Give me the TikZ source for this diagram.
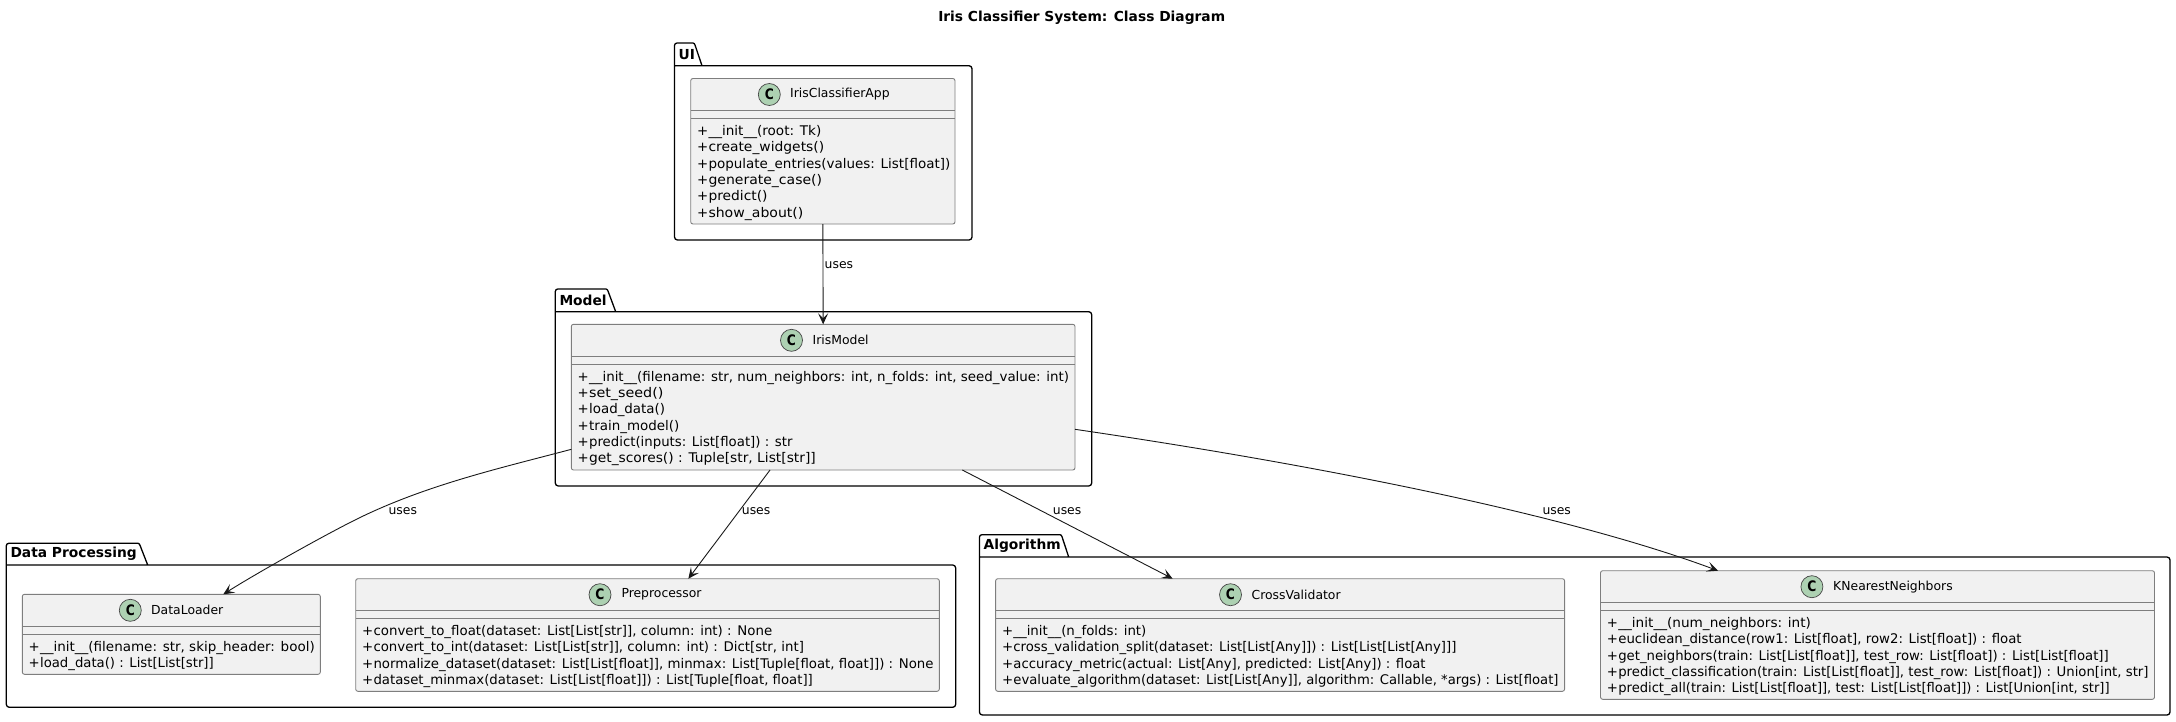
\documentclass[tikz,border=0pt]{standalone}
\usepackage{fontspec}
\usepackage{graphicx}
\setmainfont{DejaVu Sans}
\usetikzlibrary{arrows.meta,calc}
\definecolor{classfill}{HTML}{F1F1F1}
\definecolor{classline}{HTML}{7E7E7E}
\definecolor{circfill}{HTML}{ADD1B2}
\definecolor{ink}{HTML}{181818}
% ink width in px, text
\newcommand{\mline}[2]{\rule{0pt}{10pt}\makebox[11.4pt][l]{+}\resizebox{#1pt}{\height}{#2}}
% id, left, top, right, bottom, circle x, name x, name, methods
\newcommand{\umlclass}[9]{%
  \node[classbox,minimum width={(#4-#2)*1pt},minimum height={(#5-#3)*1pt}] (#1) at ({(#2+#4)/2},{(#3+#5)/2}) {};
  \draw[sepline] (#2,#3+32) -- (#4,#3+32);
  \draw[sepline] (#2,#3+40) -- (#4,#3+40);
  \node[circlemark] (#1c) at (#6,#3+16) {\scalebox{0.85}[1]{C}};
  \node[classname] (#1n) at (#7,#3+16) {#8};
  \node[methods] (#1m) at (#2+6.2,#3+46.5) {#9};
}
% id, left, tab top, tab top right, tab bottom right, body top, right, bottom, label
\newcommand{\umlpkg}[9]{%
  \draw[pkgline] (#2,#6) -- (#2,#3+2.5) to[out=90,in=180] (#2+2.5,#3) -- (#4-2,#3) to[out=0,in=115] (#4,#3+2) -- (#5,#6) -- (#2,#6)
    (#5,#6) -- (#7-3,#6) to[out=0,in=90] (#7,#6+3) -- (#7,#8-3) to[out=-90,in=0] (#7-3,#8) -- (#2+3,#8) to[out=180,in=-90] (#2,#8-3) -- (#2,#6);
  \node[pkglabel] (#1) at (#2+4,{(#3+#6)/2}) {#9};
}
\tikzset{
  classbox/.style={draw=classline,fill=classfill,line width=0.9pt,rounded corners=2.2pt,inner sep=0pt,outer sep=0pt},
  sepline/.style={draw=classline,line width=0.9pt},
  circlemark/.style={circle,draw=ink!80,fill=circfill,line width=0.7pt,minimum size=22pt,inner sep=0pt,font=\fontsize{14.5}{14.5}\selectfont\bfseries,text=black},
  classname/.style={anchor=west,inner sep=0pt,font=\fontsize{12.4}{14}\selectfont,text=black},
  methods/.style={anchor=north west,inner sep=0pt,align=left,font=\fontsize{13.3}{16.35}\selectfont,text=black},
  pkgline/.style={draw=black,line width=1.3pt,line join=round},
  pkglabel/.style={anchor=west,inner sep=0pt,font=\fontsize{13.8}{15}\selectfont\bfseries,text=black},
  uses/.style={draw=ink,line width=0.9pt,-{Stealth[length=11pt,width=10pt,inset=5pt]}},
  edgelabel/.style={anchor=west,inner sep=0pt,font=\fontsize{12.4}{14}\selectfont,text=black},
  titletext/.style={anchor=center,inner sep=0pt,font=\fontsize{13.8}{16}\selectfont\bfseries,text=black}
}
\begin{document}
\begin{tikzpicture}[x=1pt,y=-1pt]
\useasboundingbox (0,0) rectangle (2176,721);
\node[titletext] (title) at (1081.7,18) {Iris Classifier System: Class Diagram};
\umlpkg{pkgUI}{674.5}{43}{695}{702}{65.7}{972}{240}{UI}
\umlpkg{pkgModel}{555.3}{289}{608}{615.7}{311.7}{1091.7}{486}{Model}
\umlpkg{pkgData}{6.3}{543.3}{140}{147.7}{565}{955.7}{707.3}{Data Processing}
\umlpkg{pkgAlgo}{979.4}{534.7}{1062}{1068.7}{557}{2170}{715}{Algorithm}
\umlclass{app}{690.7}{78.5}{955}{224}{769.3}{790}{IrisClassifierApp}{\mline{112.8}{\_\_init\_\_(root: Tk)}\\\mline{115.7}{create\_widgets()}\\\mline{241.8}{populate\_entries(values: List[float])}\\\mline{113.6}{generate\_case()}\\\mline{59}{predict()}\\\mline{94.9}{show\_about()}}
\umlclass{model}{571.3}{324.3}{1075}{470}{791.5}{812.5}{IrisModel}{\mline{480}{\_\_init\_\_(filename: str, num\_neighbors: int, n\_folds: int, seed\_value: int)}\\\mline{74.4}{set\_seed()}\\\mline{76}{load\_data()}\\\mline{90.3}{train\_model()}\\\mline{203.4}{predict(inputs: List[float]) : str}\\\mline{226.7}{get\_scores() : Tuple[str, List[str]]}}
\umlclass{loader}{22.3}{594.3}{320.3}{674.3}{130.3}{151}{DataLoader}{\mline{274.7}{\_\_init\_\_(filename: str, skip\_header: bool)}\\\mline{173.7}{load\_data() : List[List[str]]}}
\umlclass{prep}{355.7}{578.7}{939.3}{691.3}{600}{621.3}{Preprocessor}{\mline{398.7}{convert\_to\_float(dataset: List[List[str]], column: int) : None}\\\mline{430.4}{convert\_to\_int(dataset: List[List[str]], column: int) : Dict[str, int]}\\\mline{560}{normalize\_dataset(dataset: List[List[float]], minmax: List[Tuple[float, float]]) : None}\\\mline{439.4}{dataset\_minmax(dataset: List[List[float]]) : List[Tuple[float, float]]}}
\umlclass{cv}{995.6}{578.7}{1564.6}{691.3}{1230.5}{1251.4}{CrossValidator}{\mline{133}{\_\_init\_\_(n\_folds: int)}\\\mline{443}{cross\_validation\_split(dataset: List[List[Any]]) : List[List[List[Any]]]}\\\mline{412.2}{accuracy\_metric(actual: List[Any], predicted: List[Any]) : float}\\\mline{545.1}{evaluate\_algorithm(dataset: List[List[Any]], algorithm: Callable, *args) : List[float]}}
\umlclass{knn}{1600.5}{570.7}{2154.5}{699.3}{1811.9}{1833}{KNearestNeighbors}{\mline{192.7}{\_\_init\_\_(num\_neighbors: int)}\\\mline{403.3}{euclidean\_distance(row1: List[float], row2: List[float]) : float}\\\mline{490.5}{get\_neighbors(train: List[List[float]], test\_row: List[float]) : List[List[float]]}\\\mline{530.2}{predict\_classification(train: List[List[float]], test\_row: List[float]) : Union[int, str]}\\\mline{491.3}{predict\_all(train: List[List[float]], test: List[List[float]]) : List[Union[int, str]]}}
% connectors
\draw[uses] (app.south) -- (model.north);
\draw[uses] ($(model.north west)!0.858!(model.south west)$) .. controls (501,468) and (425,485) .. (355,520) .. controls (320,537.5) and (252.8,575.5) .. ($(loader.north west)!0.6745!(loader.north east)$);
\draw[uses] ($(model.south west)!0.3945!(model.south east)$) -- ($(prep.north west)!0.57!(prep.north east)$);
\draw[uses] ($(model.south west)!0.7763!(model.south east)$) -- ($(cv.north west)!0.3112!(cv.north east)$);
\draw[uses] ($(model.north east)!0.7207!(model.south east)$) .. controls (1325,466) and (1568,515) .. ($(knn.north west)!0.2121!(knn.north east)$);
% connector labels
\node[edgelabel] (l1) at (824.5,265) {uses};
\node[edgelabel] (l2) at (388.4,511) {uses};
\node[edgelabel] (l3) at (741.7,511) {uses};
\node[edgelabel] (l4) at (1052.7,511) {uses};
\node[edgelabel] (l5) at (1542.3,511) {uses};
\end{tikzpicture}
\end{document}
